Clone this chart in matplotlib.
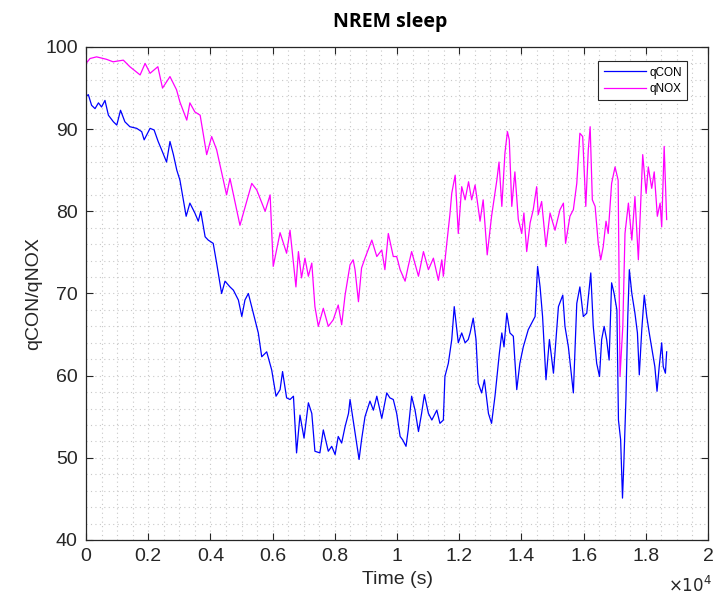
import matplotlib
matplotlib.use("Agg")
import matplotlib.pyplot as plt
from matplotlib.ticker import MultipleLocator, FuncFormatter

# readings from the reference (time in s)
t_con = [0, 75, 180, 290, 400, 500, 610, 720, 880, 990,
         1110, 1250, 1410, 1630, 1790, 1870, 2060, 2190, 2320, 2430,
         2590, 2700, 2810, 2920, 3020, 3130, 3220, 3340, 3500, 3610,
         3690, 3830, 3930, 4090, 4200, 4360, 4470, 4630, 4740, 4900,
         5010, 5110, 5220, 5380, 5540, 5650, 5810, 5970, 6110, 6240,
         6320, 6450, 6560, 6670, 6770, 6880, 7010, 7150, 7260, 7360,
         7520, 7630, 7790, 7900, 8010, 8110, 8220, 8330, 8440, 8490,
         8590, 8700, 8780, 8860, 8970, 9130, 9240, 9350, 9510, 9670,
         9770, 9880, 9990, 10100, 10180, 10290, 10360, 10470, 10580, 10690,
         10790, 10880, 11010, 11120, 11280, 11380, 11490, 11540, 11650, 11760,
         11840, 11970, 12080, 12190, 12290, 12350, 12450, 12540, 12610, 12720,
         12810, 12940, 13040, 13150, 13290, 13370, 13440, 13530, 13630, 13740,
         13850, 13950, 14060, 14220, 14330, 14440, 14520, 14600, 14680, 14790,
         14900, 15030, 15190, 15330, 15400, 15510, 15580, 15670, 15780, 15880,
         15990, 16100, 16230, 16310, 16420, 16510, 16580, 16660, 16740, 16820,
         16900, 16980, 17070, 17120, 17190, 17250, 17290, 17360, 17420, 17470,
         17550, 17650, 17730, 17790, 17870, 17950, 18030, 18110, 18220, 18290,
         18360, 18430, 18510, 18560, 18630, 18670]
q_con = [94.0, 94.2, 92.9, 92.5, 93.2, 92.7, 93.5, 91.7, 90.9, 90.5,
         92.3, 90.9, 90.3, 90.1, 89.7, 88.7, 90.1, 89.9, 88.5, 87.5,
         86.0, 88.5, 86.9, 85.0, 83.8, 81.4, 79.4, 81.0, 79.8, 78.8,
         80.0, 76.9, 76.5, 76.1, 73.7, 70.0, 71.5, 70.8, 70.4, 69.2,
         67.2, 69.2, 70.0, 67.6, 65.2, 62.3, 62.9, 60.7, 57.5, 58.3,
         60.5, 57.3, 57.1, 57.5, 50.6, 55.2, 52.4, 56.7, 55.4, 50.8,
         50.6, 53.4, 50.8, 51.4, 50.4, 52.6, 51.8, 53.8, 55.4, 57.1,
         54.6, 51.8, 49.8, 52.2, 55.0, 56.9, 55.8, 57.5, 54.8, 57.9,
         57.3, 57.1, 55.4, 52.6, 52.2, 51.4, 53.4, 57.5, 55.8, 53.2,
         55.4, 57.7, 55.4, 54.6, 55.8, 54.2, 54.6, 59.9, 61.5, 64.4,
         68.4, 64.0, 65.2, 64.0, 64.4, 65.2, 67.0, 64.4, 59.1, 57.9,
         59.5, 55.4, 54.2, 57.5, 62.7, 65.2, 63.5, 67.6, 65.2, 64.8,
         58.3, 61.5, 63.5, 65.6, 66.4, 67.2, 73.3, 70.8, 67.2, 59.5,
         64.4, 60.3, 68.4, 69.8, 66.0, 63.5, 61.1, 57.9, 68.8, 70.8,
         67.2, 67.6, 72.5, 66.0, 61.5, 59.9, 64.4, 66.0, 64.4, 61.9,
         71.3, 70.0, 68.0, 54.6, 52.2, 45.1, 49.0, 57.1, 67.2, 72.9,
         70.0, 67.6, 65.2, 60.1, 65.6, 69.8, 67.2, 65.2, 62.7, 61.1,
         58.1, 61.1, 64.0, 61.1, 60.3, 62.9]

t_nox = [0, 130, 340, 660, 870, 1200, 1410, 1740, 1900, 2060,
         2310, 2460, 2700, 2910, 3020, 3240, 3340, 3500, 3670, 3880,
         4040, 4200, 4520, 4630, 4950, 5330, 5490, 5760, 5920, 6020,
         6240, 6450, 6560, 6750, 6830, 6930, 7040, 7150, 7260, 7360,
         7470, 7630, 7790, 7950, 8110, 8220, 8330, 8490, 8590, 8650,
         8760, 8860, 8970, 9190, 9350, 9510, 9610, 9720, 9880, 9990,
         10100, 10260, 10360, 10470, 10690, 10850, 11010, 11170, 11330, 11440,
         11490, 11600, 11700, 11760, 11870, 11970, 12080, 12190, 12300, 12400,
         12510, 12670, 12770, 12900, 13040, 13210, 13280, 13370, 13470, 13550,
         13610, 13690, 13790, 13900, 14010, 14080, 14170, 14280, 14380, 14490,
         14540, 14650, 14790, 14920, 15080, 15240, 15350, 15420, 15560, 15670,
         15780, 15880, 15970, 16070, 16150, 16210, 16280, 16370, 16470, 16550,
         16630, 16720, 16790, 16900, 17010, 17110, 17170, 17260, 17330, 17440,
         17550, 17650, 17760, 17900, 18010, 18080, 18190, 18270, 18370, 18460,
         18510, 18590, 18670]
q_nox = [98.0, 98.6, 98.8, 98.5, 98.2, 98.4, 97.6, 96.6, 98.0, 96.8,
         97.6, 95.0, 96.4, 94.8, 93.3, 91.1, 93.2, 92.1, 91.7, 86.9,
         89.1, 87.5, 82.0, 84.0, 78.3, 83.4, 82.6, 80.0, 82.0, 73.3,
         77.4, 74.9, 77.7, 70.8, 75.1, 71.9, 74.3, 72.1, 73.7, 68.4,
         66.0, 68.2, 66.0, 66.8, 68.6, 66.2, 69.8, 73.5, 74.1, 72.9,
         69.0, 73.1, 74.3, 76.5, 74.5, 75.3, 72.9, 77.3, 74.5, 74.5,
         72.9, 71.5, 73.3, 75.1, 72.1, 75.1, 72.9, 74.3, 71.6, 74.1,
         72.1, 76.1, 79.6, 82.2, 84.4, 77.3, 83.0, 81.4, 83.6, 81.4,
         83.2, 78.8, 81.4, 74.7, 79.4, 83.8, 86.0, 80.6, 87.1, 89.7,
         88.7, 80.6, 84.8, 79.0, 77.3, 79.8, 75.1, 78.6, 80.2, 83.0,
         79.6, 81.2, 75.7, 79.8, 77.7, 80.2, 81.0, 76.1, 79.4, 80.2,
         83.4, 89.5, 89.1, 80.6, 87.5, 90.3, 81.4, 80.6, 76.1, 74.1,
         75.7, 78.8, 77.3, 83.4, 85.4, 83.8, 59.9, 66.0, 77.3, 81.0,
         76.5, 81.8, 74.1, 86.9, 82.2, 85.4, 82.8, 84.8, 79.4, 81.0,
         78.1, 87.9, 79.0]

y_ticks = [40, 50, 60, 70, 80, 90, 100]

plt.rcParams['font.family'] = ['Liberation Sans', 'DejaVu Sans']

fig = plt.figure(figsize=(7.27, 6.01), dpi=100)
ax = fig.add_axes([0.1183, 0.1015, 0.8556, 0.8203])

ax.plot(t_con, q_con, color=(0, 0, 1), lw=0.9, label="qCON")
ax.plot(t_nox, q_nox, color=(1, 0, 1), lw=0.9, label="qNOX")

ax.set_xlim(0, 20000)
ax.set_ylim(40, 100)
ax.xaxis.set_major_locator(MultipleLocator(2000))
ax.xaxis.set_minor_locator(MultipleLocator(500))
ax.set_yticks(y_ticks)
ax.yaxis.set_minor_locator(MultipleLocator(2))
ax.xaxis.set_major_formatter(FuncFormatter(lambda v, p: f"{v / 1e4:g}"))

ax.grid(which="major", color="#c8c8c8", linestyle=(0, (1, 3)), lw=0.8)
ax.grid(which="minor", color="#c8c8c8", linestyle=(0, (1, 3)), lw=0.8)
ax.tick_params(which="major", direction="in", top=True, right=True,
               length=5, width=0.8, color="#262626", labelsize=14,
               labelcolor="#262626", pad=6)
ax.tick_params(which="minor", length=0)
for s in ax.spines.values():
    s.set_color("#262626")
    s.set_linewidth(0.9)

ax.set_xlabel("Time (s)", fontsize=14, color="#262626", labelpad=4)
ax.set_ylabel("qCON/qNOX", fontsize=14, color="#262626")
ax.yaxis.set_label_coords(-0.071, 0.5)
fig.text(0.537, 0.963, "NREM sleep", ha="center", va="center",
         fontsize=14, fontweight="bold", family="Open Sans")
fig.text(0.919, 0.027, r"$\times10^{4}$", ha="left", va="center",
         fontsize=12, color="#262626")

leg = ax.legend(loc="upper right", bbox_to_anchor=(0.967, 0.971), fontsize=8.5,
                handlelength=3.6, handletextpad=0.3, borderpad=0.45,
                labelspacing=0.35, borderaxespad=0, fancybox=False,
                framealpha=1)
leg.get_frame().set_edgecolor("#262626")
leg.get_frame().set_linewidth(0.8)

fig.savefig("out.png", dpi=100)
